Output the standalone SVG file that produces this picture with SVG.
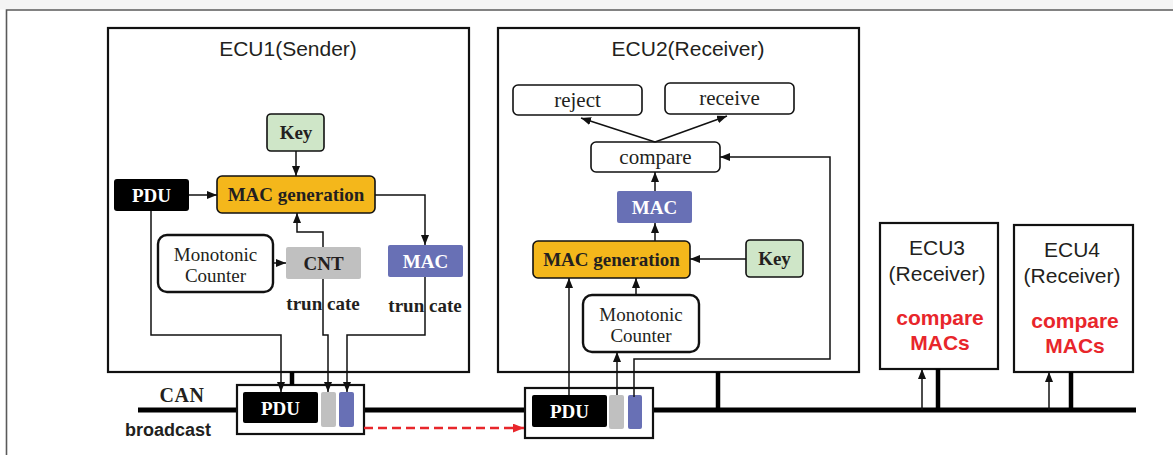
<svg xmlns="http://www.w3.org/2000/svg" width="1173" height="455" viewBox="0 0 1173 455">
  <style>
    .frame { fill: #ffffff; stroke: #111111; stroke-width: 2.2; }
    .title { font-family: "Liberation Sans", Arial, sans-serif; font-size: 21px; fill: #231f20; text-anchor: middle; }
    .bold  { font-family: "Liberation Serif", "Times New Roman", serif; font-weight: bold; font-size: 19px; text-anchor: middle; }
    .reg   { font-family: "Liberation Serif", "Times New Roman", serif; font-size: 19px; fill: #231f20; text-anchor: middle; }
    .red   { font-family: "Liberation Sans", Arial, sans-serif; font-weight: bold; font-size: 21px; fill: #e8262b; text-anchor: middle; }
    .key   { fill: #cfe6c8; stroke: #111111; stroke-width: 1.6; }
    .gen   { fill: #f4b71b; stroke: #111111; stroke-width: 1.6; }
    .pdu   { fill: #000000; }
    .cnt   { fill: #c0c0c0; }
    .mac   { fill: #6870b5; }
    .plain { fill: #ffffff; stroke: #111111; stroke-width: 1.6; }
    .mono  { fill: #ffffff; stroke: #111111; stroke-width: 2.4; }
    .wire  { fill: none; stroke: #111111; stroke-width: 1.5; }
    .arrow { fill: none; stroke: #111111; stroke-width: 1.5; marker-end: url(#head); }
    .stub  { fill: none; stroke: #000000; stroke-width: 4.5; }
  </style>
  <defs>
    <marker id="head" viewBox="0 0 10 8" refX="10" refY="4" markerWidth="10" markerHeight="8" markerUnits="userSpaceOnUse" orient="auto">
      <path d="M0,0 L10,4 L0,8 z" fill="#111111"/>
    </marker>
    <marker id="headRed" viewBox="0 0 10 8" refX="10" refY="4" markerWidth="11" markerHeight="9" markerUnits="userSpaceOnUse" orient="auto">
      <path d="M0,0 L10,4 L0,8 z" fill="#e8262b"/>
    </marker>
  </defs>

  <!-- page background and outer border -->
  <rect x="0" y="0" width="1173" height="455" fill="#ffffff"/>
  <rect x="0" y="0" width="1173" height="9.5" fill="#f4f4f4"/>
  <path d="M6.5,455 V10 H1173" fill="none" stroke="#5a5a5a" stroke-width="1.6"/>

  <!-- CAN bus -->
  <g id="can-bus">
    <path d="M138,410 H1136" stroke="#000000" stroke-width="5" fill="none"/>
    <text x="182" y="402" class="bold" style="font-size:20px; fill:#231f20; letter-spacing:0.5px">CAN</text>
    <text x="168" y="436" style="font-family:'Liberation Sans', Arial, sans-serif; font-weight:bold; font-size:18px; fill:#231f20; text-anchor:middle">broadcast</text>
  </g>

  <!-- ECU1 -->
  <g id="ecu1">
    <rect x="108" y="28" width="361" height="344" class="frame"/>
    <text x="288" y="56" class="title">ECU1(Sender)</text>
  </g>
  <g id="ecu1-key">
    <rect x="267" y="114" width="57" height="37" rx="4" class="key"/>
    <text x="296" y="139" class="bold" fill="#231f20">Key</text>
  </g>
  <g id="ecu1-macgen">
    <rect x="217" y="176" width="158" height="37" rx="5" class="gen"/>
    <text x="296" y="201" class="bold" fill="#231f20">MAC generation</text>
  </g>
  <g id="ecu1-pdu">
    <rect x="114" y="179" width="75" height="32" rx="3" class="pdu"/>
    <text x="151.5" y="202" class="bold" fill="#ffffff">PDU</text>
  </g>
  <g id="ecu1-counter">
    <rect x="158" y="235" width="115" height="57" rx="9" class="mono"/>
    <text x="215.5" y="261" class="reg">Monotonic</text>
    <text x="215.5" y="282" class="reg">Counter</text>
  </g>
  <g id="ecu1-cnt">
    <rect x="286" y="247" width="75" height="32" rx="2" class="cnt"/>
    <text x="323.5" y="270" class="bold" fill="#231f20">CNT</text>
    <text x="323" y="310" class="bold" fill="#231f20">trun cate</text>
  </g>
  <g id="ecu1-mac">
    <rect x="388" y="245" width="75" height="32" rx="2" class="mac"/>
    <text x="425.5" y="268" class="bold" fill="#ffffff">MAC</text>
    <text x="425" y="312" class="bold" fill="#231f20">trun cate</text>
  </g>

  <!-- frame on the bus sent by ECU1 -->
  <g id="frame1">
    <rect x="237" y="385" width="127" height="49" class="frame"/>
    <rect x="243" y="392" width="75" height="31" rx="2" class="pdu"/>
    <text x="280.5" y="415" class="bold" fill="#ffffff">PDU</text>
    <rect x="321" y="392" width="15" height="35" rx="2" class="cnt"/>
    <rect x="339" y="392" width="15" height="35" rx="2" class="mac"/>
  </g>

  <!-- ECU2 -->
  <g id="ecu2">
    <rect x="498" y="28" width="361" height="344" class="frame"/>
    <text x="688" y="56" class="title">ECU2(Receiver)</text>
  </g>
  <g id="ecu2-reject">
    <rect x="513" y="85" width="129" height="30" rx="5" class="plain"/>
    <text x="577.5" y="107" class="reg" style="font-size:21px">reject</text>
  </g>
  <g id="ecu2-receive">
    <rect x="665" y="83" width="129" height="31" rx="5" class="plain"/>
    <text x="729.5" y="105" class="reg" style="font-size:21px">receive</text>
  </g>
  <g id="ecu2-compare">
    <rect x="591" y="142" width="129" height="30" rx="5" class="plain"/>
    <text x="655.5" y="164" class="reg" style="font-size:21px">compare</text>
  </g>
  <g id="ecu2-mac">
    <rect x="617" y="191" width="75" height="32" rx="2" class="mac"/>
    <text x="654.5" y="214" class="bold" fill="#ffffff">MAC</text>
  </g>
  <g id="ecu2-macgen">
    <rect x="533" y="241" width="157" height="37" rx="5" class="gen"/>
    <text x="611.5" y="266" class="bold" fill="#231f20">MAC generation</text>
  </g>
  <g id="ecu2-key">
    <rect x="746" y="240" width="57" height="37" rx="4" class="key"/>
    <text x="774.5" y="265" class="bold" fill="#231f20">Key</text>
  </g>
  <g id="ecu2-counter">
    <rect x="583" y="295" width="116" height="57" rx="9" class="mono"/>
    <text x="641" y="321" class="reg">Monotonic</text>
    <text x="641" y="342" class="reg">Counter</text>
  </g>

  <!-- frame on the bus received by ECU2 -->
  <g id="frame2">
    <rect x="525" y="388" width="128" height="50" class="frame"/>
    <rect x="532" y="395" width="75" height="32" rx="2" class="pdu"/>
    <text x="569.5" y="418" class="bold" fill="#ffffff">PDU</text>
    <rect x="609" y="395" width="15" height="34" rx="2" class="cnt"/>
    <rect x="628" y="395" width="14" height="34" rx="2" class="mac"/>
  </g>

  <!-- ECU3 -->
  <g id="ecu3">
    <rect x="880" y="223" width="118" height="146" class="frame"/>
    <text x="937" y="255" class="title">ECU3</text>
    <text x="937" y="281" class="title">(Receiver)</text>
    <text x="940" y="325" class="red">compare</text>
    <text x="940" y="350" class="red">MACs</text>
  </g>

  <!-- ECU4 -->
  <g id="ecu4">
    <rect x="1014" y="225" width="119" height="147" class="frame"/>
    <text x="1072" y="257" class="title">ECU4</text>
    <text x="1072" y="283" class="title">(Receiver)</text>
    <text x="1075" y="328" class="red">compare</text>
    <text x="1075" y="353" class="red">MACs</text>
  </g>

  <!-- connectors -->
  <g id="connectors">
    <!-- ECU1 internal -->
    <path class="arrow" d="M296,151 V176"/>
    <path class="arrow" d="M189,195 H217"/>
    <path class="arrow" d="M375,195 H425 V245"/>
    <path class="arrow" d="M273,263 H286"/>
    <path class="arrow" d="M323,247 V232 H297 V213"/>
    <!-- ECU1 to frame -->
    <path class="arrow" d="M151,211 V335 H281 V392"/>
    <path class="arrow" d="M323,279 V335 H328 V392"/>
    <path class="arrow" d="M425,277 V335 H347 V392"/>
    <path class="stub" d="M292,372 V385"/>

    <!-- frame to ECU2 -->
    <path class="arrow" d="M364,428 H524" style="stroke:#e8262b; stroke-width:2.4; stroke-dasharray:9 5; marker-end:url(#headRed)"/>

    <!-- ECU2 internal -->
    <path class="arrow" d="M569,395 V278"/>
    <path class="arrow" d="M617,395 V352"/>
    <path class="arrow" d="M636,295 V278"/>
    <path class="arrow" d="M746,259 H690"/>
    <path class="arrow" d="M655,241 V223"/>
    <path class="arrow" d="M655,191 V172"/>
    <path class="arrow" d="M655,142 L581,118"/>
    <path class="arrow" d="M655,142 L727,116"/>
    <path class="arrow" d="M634,397 V359 H830 V157 H720"/>
    <path class="stub" d="M718,372 V410"/>

    <!-- ECU3 / ECU4 bus taps -->
    <path class="stub" d="M938,369 V410"/>
    <path class="arrow" d="M922,410 V369"/>
    <path class="stub" d="M1071,372 V410"/>
    <path class="arrow" d="M1049,410 V372"/>
  </g>
</svg>
